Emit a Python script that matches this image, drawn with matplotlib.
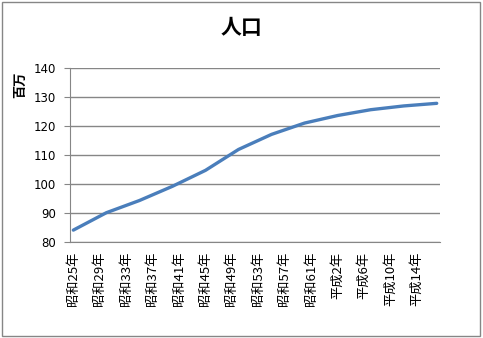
import matplotlib
matplotlib.use('Agg')
import matplotlib.pyplot as plt
from matplotlib.patches import Rectangle

plt.rcParams['font.family'] = ['Noto Sans CJK JP', 'DejaVu Sans']

# 国勢調査の年と人口(百万)
census_years = [1950, 1955, 1960, 1965, 1970, 1975, 1980, 1985, 1990, 1995, 2000, 2005]
population = [84.1, 90.1, 94.3, 99.2, 104.7, 111.9, 117.1, 121.0, 123.6, 125.6, 126.9, 127.8]

# 軸は毎年、ラベルは4年おき
first_year = 1950
last_year = 2005
label_years = list(range(1950, 2003, 4))


def era_label(y):
    if y < 1989:
        return '昭和%d年' % (y - 1925)
    return '平成%d年' % (y - 1988)


yticks = [80, 90, 100, 110, 120, 130, 140]

fig = plt.figure(figsize=(4.83, 3.38), dpi=100)
fig.patches.append(Rectangle((0.004, 0.006), 0.99, 0.988, transform=fig.transFigure,
                             fill=False, edgecolor='#868686', linewidth=1))
ax = fig.add_axes([0.145, 0.284, 0.766, 0.515])

ax.plot(census_years, population, color='#4A7EBB', linewidth=2.4, solid_capstyle='round')

ax.set_xlim(first_year - 0.5, last_year + 0.5)
ax.set_ylim(80, 140)
ax.set_yticks(yticks)
ax.set_yticklabels([str(v) for v in yticks], fontsize=8.5, family=['DejaVu Sans'])
ax.set_xticks(label_years)
ax.set_xticklabels([era_label(y) for y in label_years], rotation=90, fontsize=9.5)
ax.tick_params(axis='x', length=0, pad=7)
ax.tick_params(axis='y', length=4, color='#868686', pad=6)
ax.grid(axis='y', color='#868686', linewidth=1)
ax.set_axisbelow(True)
for s in ['top', 'right']:
    ax.spines[s].set_visible(False)
for s in ['left', 'bottom']:
    ax.spines[s].set_color('#868686')

fig.text(0.5, 0.92, '人口', ha='center', va='center', fontsize=15, fontweight='bold')
fig.text(0.042, 0.75, '百万', ha='center', va='center', rotation=90, fontsize=9.5,
         fontweight='bold')

fig.savefig('out.png', dpi=100)
